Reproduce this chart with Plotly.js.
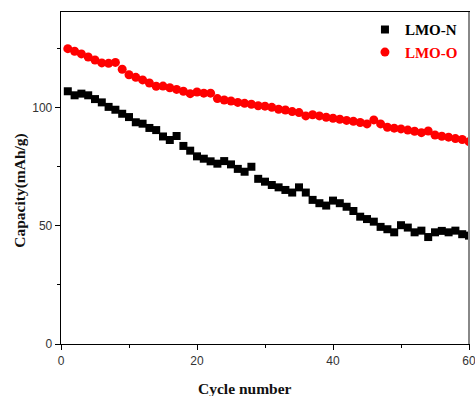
<!DOCTYPE html>
<html>
<head>
<meta charset="utf-8">
<script src="https://cdn.plot.ly/plotly-3.0.1.min.js"></script>
<style>html,body{margin:0;padding:0;background:#fff;}#chart{width:475px;height:396px;}</style>
</head>
<body>
<div id="chart"></div>
<script>
const cycles = Array.from({length: 60}, (_, i) => i + 1);
const lmoN = [106.8,105.1,105.8,105.1,103.5,102.1,100.2,99.0,97.3,95.9,
              93.7,93.1,91.3,90.4,87.7,86.2,87.9,83.7,81.7,79.3,
              78.3,77.2,76.2,77.3,75.9,74.0,72.8,74.9,69.8,68.6,
              67.2,66.2,65.1,64.0,66.2,64.0,60.9,59.5,58.5,60.6,
              59.5,58.0,56.2,53.8,52.8,51.7,49.5,48.5,47.2,50.2,
              49.2,47.2,47.9,45.2,47.2,47.8,47.2,47.9,46.4,45.8];
const lmoO = [124.8,123.7,122.6,121.3,120.0,118.8,118.6,119.0,116.1,113.8,
              112.7,111.6,110.3,108.9,109.0,108.3,107.6,106.8,105.8,106.5,
              106.0,106.0,103.7,103.1,102.7,102.1,101.7,101.3,100.7,100.5,
              100.0,99.2,98.9,98.2,97.8,96.4,96.9,96.4,95.8,95.4,
              95.0,94.5,94.1,93.6,93.0,94.7,93.0,91.6,91.2,90.9,
              90.4,89.9,89.3,90.0,88.3,87.8,87.4,86.8,86.4,85.5];
const seriesNames = ['LMO-N', 'LMO-O'];
const xTicks = [0, 20, 40, 60];
const yTicks = [0, 50, 100];
const xTitle = 'Cycle number';
const yTitle = 'Capacity(mAh/g)';

const titleFont = {family: 'Liberation Serif, Times New Roman, serif', size: 15.5, color: '#111'};
const tickFont = {family: 'Liberation Sans, Arial, sans-serif', size: 12, color: '#333'};

const traces = [
  {x: cycles, y: lmoN, type: 'scatter', mode: 'markers', name: '<b>' + seriesNames[0] + '</b>',
   marker: {symbol: 'square', size: 8, color: '#000'}},
  {x: cycles, y: lmoO, type: 'scatter', mode: 'markers', name: '<b><span style="color:#ff0000">' + seriesNames[1] + '</span></b>',
   marker: {symbol: 'circle', size: 9, color: '#ff0000'}}
];

const layout = {
  width: 475, height: 396,
  margin: {l: 61, r: 6, t: 12, b: 52},
  paper_bgcolor: '#fff', plot_bgcolor: '#fff',
  showlegend: true,
  legend: {x: 0.745, y: 0.996, xanchor: 'left', yanchor: 'top', bgcolor: 'rgba(0,0,0,0)',
           font: {family: 'Liberation Serif, Times New Roman, serif', size: 15, color: '#000'},
           tracegroupgap: 0},
  xaxis: {range: [0, 60], tickvals: xTicks, ticktext: xTicks.map(String),
          ticks: 'outside', ticklen: 5, tickwidth: 1, tickcolor: '#000',
          ticklabeloverflow: 'allow',
          minor: {dtick: 10, tick0: 0, ticks: 'outside', ticklen: 3, tickcolor: '#000'},
          showline: true, linecolor: '#000', linewidth: 1.3, mirror: true,
          showgrid: false, zeroline: false, tickfont: tickFont,
          title: {text: ''}},
  yaxis: {range: [0, 140.3], tickvals: yTicks, ticktext: yTicks.map(String),
          ticks: 'outside', ticklen: 5, tickwidth: 1, tickcolor: '#000',
          minor: {tickvals: [25, 75, 125], ticks: 'outside', ticklen: 3, tickcolor: '#000'},
          showline: true, linecolor: '#000', linewidth: 1.3, mirror: true,
          showgrid: false, zeroline: false, tickfont: tickFont,
          title: {text: ''}},
  shapes: [
    {type: 'line', xref: 'paper', yref: 'paper', x0: 1, x1: 1, y0: 0, y1: 1,
     line: {color: '#888', width: 2}}
  ],
  annotations: [
    {text: '<b>' + xTitle + '</b>', xref: 'paper', yref: 'paper', x: 0.451, y: -0.135,
     xanchor: 'center', yanchor: 'middle', showarrow: false, font: titleFont},
    {text: '<b>' + yTitle + '</b>', xref: 'paper', yref: 'paper', x: -0.101, y: 0.464,
     xanchor: 'center', yanchor: 'middle', showarrow: false, textangle: -90, font: titleFont}
  ]
};

Plotly.newPlot('chart', traces, layout, {displayModeBar: false, staticPlot: true});
</script>
</body>
</html>
